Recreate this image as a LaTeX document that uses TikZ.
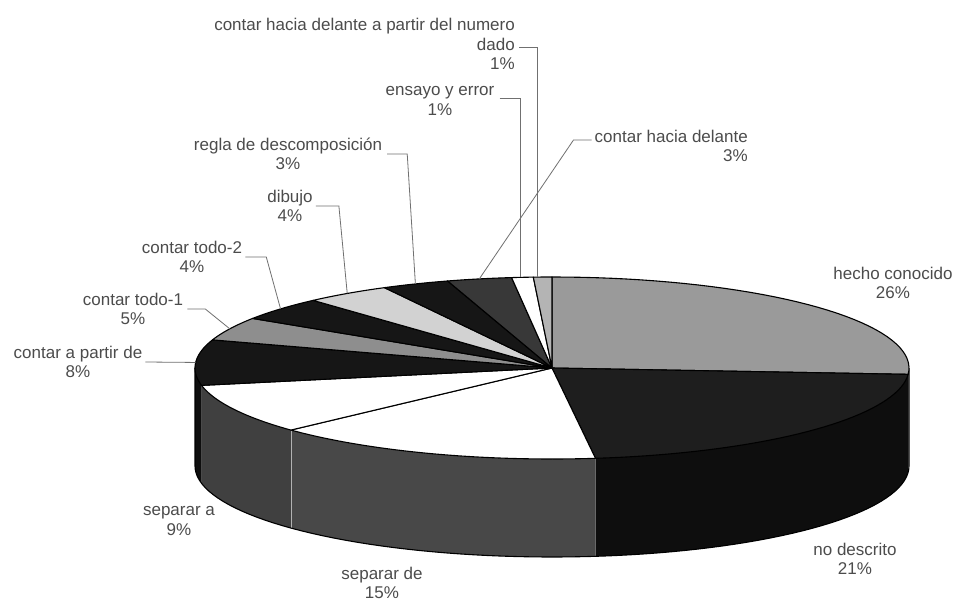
\documentclass[tikz,border=0pt]{standalone}
\usepackage{fontspec}
\setmainfont{Liberation Sans}
\usetikzlibrary{positioning}

\definecolor{labelgray}{HTML}{4C4C4C}
\definecolor{leadergray}{HTML}{707070}
\definecolor{hechoTop}{HTML}{9A9A9A}
\definecolor{noTop}{HTML}{1E1E1E}
\definecolor{noSide}{HTML}{0E0E0E}
\definecolor{sepSide}{HTML}{484848}
\definecolor{sepaSide}{HTML}{404040}
\definecolor{darkTop}{HTML}{161616}
\definecolor{midTop}{HTML}{8E8E8E}
\definecolor{lightTop}{HTML}{D2D2D2}
\definecolor{delanteTop}{HTML}{383838}
\definecolor{dadoTop}{HTML}{B4B4B4}

\newcommand{\pieX}{552}
\newcommand{\pieY}{368}
\newcommand{\pieRx}{357}
\newcommand{\pieRy}{91}
\newcommand{\pieD}{98}

\begin{document}
\begin{tikzpicture}[x=1pt,y=-1pt,
  lbl/.style={text=labelgray, font=\fontsize{17}{19.5}\selectfont, inner sep=0pt, align=center},
  leader/.style={draw=leadergray, line width=0.8pt},
  face/.style={draw=black, line width=1.1pt, line join=round}]

  \useasboundingbox[fill=white] (0,0) rectangle (958,604);

  % Draw the visible side of the pie
  \foreach \a/\b/\col in {0/-4/hechoTop, -4/-83/noSide, -83/-137/sepSide, -137/-169/sepaSide, -169/-180/noSide} {
    \fill[\col] plot[domain=\a:\b, samples=30] ({\pieX+\pieRx*cos(\x)},{\pieY-\pieRy*sin(\x)})
      -- plot[domain=\b:\a, samples=30] ({\pieX+\pieRx*cos(\x)},{\pieY+\pieD-\pieRy*sin(\x)}) -- cycle;
  }
  \draw[gray!60, line width=0.8pt] ({\pieX+\pieRx*cos(-137)},{\pieY-\pieRy*sin(-137)}) -- ++(0,\pieD);
  \draw[face] ({\pieX-\pieRx},\pieY)
    -- plot[domain=-180:0, samples=80] ({\pieX+\pieRx*cos(\x)},{\pieY+\pieD-\pieRy*sin(\x)})
    -- ({\pieX+\pieRx},\pieY);

  % Draw the slices on top
  \foreach \a/\b/\col in {90/-4/hechoTop, -4/-83/noTop, -83/-137/white, -137/-169/white,
      -169/-198/darkTop, 162/147/midTop, 147/132/darkTop, 132/118/lightTop,
      118/107/darkTop, 107/96.5/delanteTop, 96.5/93/white, 93/90/dadoTop} {
    \filldraw[face, fill=\col] (\pieX,\pieY)
      -- plot[domain=\a:\b, samples=40] ({\pieX+\pieRx*cos(\x)},{\pieY-\pieRy*sin(\x)}) -- cycle;
  }

  % Points on the rim for the leader lines
  \foreach \n/\m in {partir/176.5, todoA/154.5, todoB/139.5, dibujo/125, regla/112.5,
      delante/101.75, ensayo/95.1, dado/92.3} {
    \coordinate (pt-\n) at ({\pieX+\pieRx*cos(\m)},{\pieY-\pieRy*sin(\m)});
  }

  % Labels
  \node[lbl] (hecho) at (893,283) {hecho conocido\\26\%};
  \node[lbl] (nodesc) at (855,559) {no descrito\\21\%};
  \node[lbl] (sepde) at (382,583) {separar de\\15\%};
  \node[lbl] (sepa) at (179,521) {separar a\\9\%};
  \node[lbl] (partir) at (78,362) {contar a partir de\\8\%};
  \node[lbl] (todoA) at (133,309) {contar todo-1\\5\%};
  \node[lbl] (todoB) at (192,257) {contar todo-2\\4\%};
  \node[lbl] (dibujo) at (290,206) {dibujo\\4\%};
  \node[lbl] (regla) at (288,154) {regla de descomposición\\3\%};
  \node[lbl, align=right, anchor=east] (delante) at (748,146) {contar hacia delante\\3\%};
  \node[lbl] (ensayo) at (440,101) {ensayo y error\\1\%};
  \node[lbl, align=right, anchor=east] (dado) at (515,44) {contar hacia delante a partir del numero\\dado\\1\%};

  % Leader lines
  \draw[leader] ([xshift=3pt]partir.east) -- (pt-partir);
  \draw[leader] ([xshift=4pt]todoA.east) -- ++(18,0) -- (pt-todoA);
  \draw[leader] ([xshift=3pt]todoB.east) -- ++(21,0) -- (pt-todoB);
  \draw[leader] ([xshift=3pt]dibujo.east) -- ++(23,0) -- (pt-dibujo);
  \draw[leader] ([xshift=5pt]regla.east) -- ++(20,0) -- (pt-regla);
  \draw[leader] ([shift={(-3,-6)}]delante.west) -- ++(-18,0) -- (pt-delante);
  \draw[leader] ([shift={(5,-3)}]ensayo.east) -| (pt-ensayo);
  \draw[leader] ([shift={(4,3)}]dado.east) -| (pt-dado);

\end{tikzpicture}
\end{document}
